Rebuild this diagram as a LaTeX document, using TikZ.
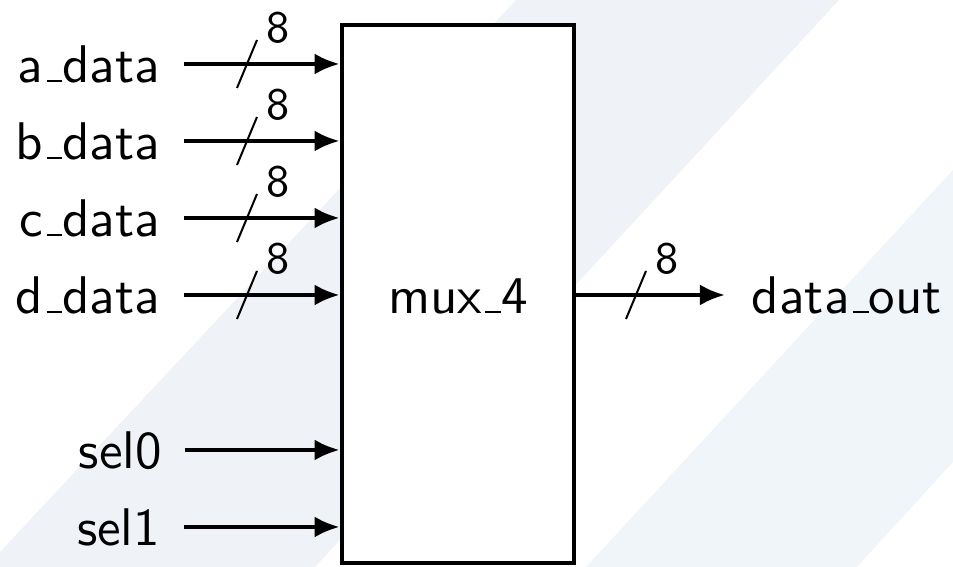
\documentclass[tikz,border=0pt]{standalone}
\usetikzlibrary{arrows.meta}
\definecolor{stripeA}{RGB}{239,242,246}
\definecolor{stripeB}{RGB}{240,245,250}
\newcommand\usc{\leavevmode\kern.06em\vbox{\hrule width .3em}}
\newcommand\busmark[2]{%
  \draw[busslash] ([shift={(-10,24)}]#1) -- ([shift={(10,-24)}]#1);
  \node[widthlbl] (#2) at ([shift={(31,-36)}]#1) {8};}
\begin{document}
\begin{tikzpicture}[x=0.2pt,y=-0.2pt,
  lbl/.style={font=\sffamily\fontsize{10.6}{12.5}\selectfont, inner sep=0pt,
              text height=7.36pt, text depth=0pt},
  widthlbl/.style={font=\sffamily\fontsize{9}{11}\selectfont, inner sep=0pt},
  wire/.style={line width=0.8pt, -{Latex[length=5pt,width=4.2pt]}},
  busslash/.style={line width=0.4pt},
  blockbox/.style={draw, fill=white, line width=0.95pt,
                   minimum width=46.4pt, minimum height=107.6pt, inner sep=0pt}]
\useasboundingbox (0,0) rectangle (953,567);
% background stripes
\fill[stripeA] (0,552) -- (516,0) -- (839,0) -- (315,567) -- (0,567) -- cycle;
\fill[stripeB] (953,170) -- (586,567) -- (857,567) -- (953,462) -- cycle;
% block
\node[blockbox] (mux) at (458,294) {};
\node[lbl] (muxlbl) at (458,295) {mux\usc 4};
% inputs
\node[lbl, anchor=east] (a) at (161,64)  {a\usc data};
\node[lbl, anchor=east] (b) at (161,141) {b\usc data};
\node[lbl, anchor=east] (c) at (161,218) {c\usc data};
\node[lbl, anchor=east] (d) at (161,295) {d\usc data};
\node[lbl, anchor=east] (s0) at (163,450) {sel0};
\node[lbl, anchor=east] (s1) at (161,527) {sel1};
\foreach \n in {a,b,c,d}
  \draw[wire, shorten <=4.6pt] (\n.east) -- (\n.east -| mux.west);
\draw[wire, shorten <=4.4pt] (s0.east) -- (s0.east -| mux.west);
\draw[wire, shorten <=4.6pt] (s1.east) -- (s1.east -| mux.west);
\coordinate (ma) at (247,64);
\coordinate (mb) at (247,141);
\coordinate (mc) at (247,218);
\coordinate (md) at (247,295);
\busmark{ma}{wa}
\busmark{mb}{wb}
\busmark{mc}{wc}
\busmark{md}{wd}
% output
\node[lbl, anchor=west] (out) at (751,295) {data\usc out};
\draw[wire, shorten >=5.2pt] (mux.east |- out.west) -- (out.west);
\coordinate (mo) at (636,295);
\busmark{mo}{wo}
\end{tikzpicture}
\end{document}
